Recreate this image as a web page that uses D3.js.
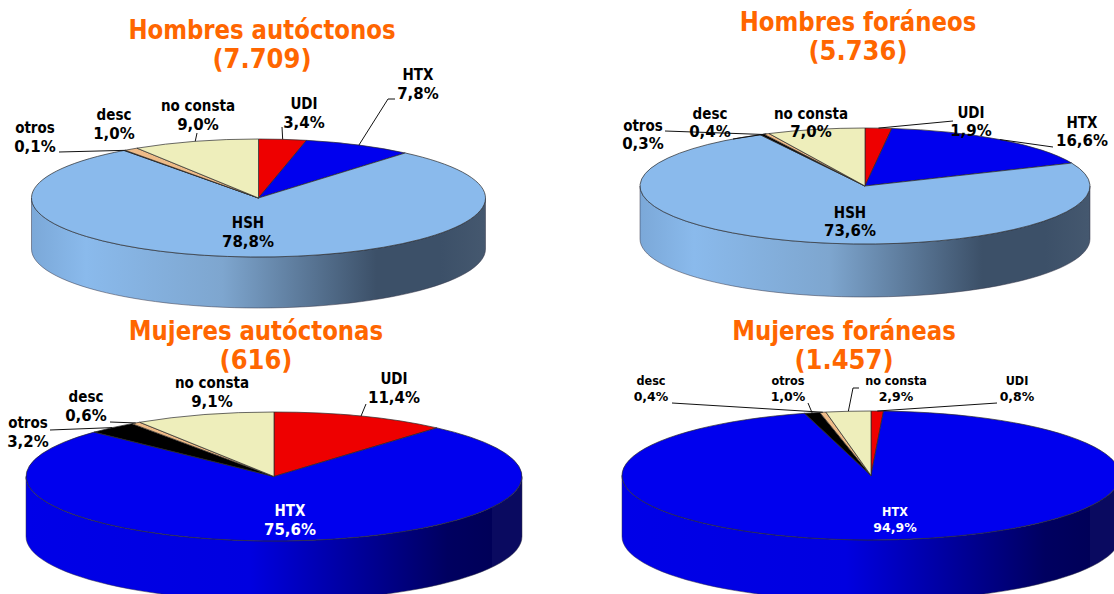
<!DOCTYPE html>
<html>
<head>
  <meta charset="utf-8">
  <title>Pies</title>
  <style type="text/css">
    html, body { margin: 0; padding: 0; background: #fff; overflow: hidden; }
    svg { display: block; }
    text { font-family: "DejaVu Sans Condensed", "DejaVu Sans", sans-serif; font-weight: bold; font-stretch: condensed; text-anchor: middle; }
    .title { fill: #ff6600; font-size: 27px; }
    .pct { font-family: "DejaVu Sans", sans-serif; font-stretch: normal; }
    .leader { fill: none; stroke: #111; stroke-width: 1; }
  </style>
  <script src="https://d3js.org/d3.v7.min.js"></script>
</head>
<body>
<script>
var width = 1114, height = 594;

// data, clockwise from 12 o'clock
var cats1 = ["UDI", "HTX", "HSH", "otros", "desc", "no consta"];
var vals1 = [3.4, 7.8, 78.8, 0.1, 1.0, 9.0];
var labels1 = ["3,4%", "7,8%", "78,8%", "0,1%", "1,0%", "9,0%"];

var cats2 = ["UDI", "HTX", "HSH", "otros", "desc", "no consta"];
var vals2 = [1.9, 16.6, 73.6, 0.3, 0.4, 7.0];
var labels2 = ["1,9%", "16,6%", "73,6%", "0,3%", "0,4%", "7,0%"];

var cats3 = ["UDI", "HTX", "otros", "desc", "no consta"];
var vals3 = [11.4, 75.6, 3.2, 0.6, 9.1];
var labels3 = ["11,4%", "75,6%", "3,2%", "0,6%", "9,1%"];

var cats4 = ["UDI", "HTX", "otros", "desc", "no consta"];
var vals4 = [0.8, 94.9, 1.0, 0.4, 2.9];
var labels4 = ["0,8%", "94,9%", "1,0%", "0,4%", "2,9%"];

var color = d3.scaleOrdinal()
  .domain(["UDI", "HTX", "HSH", "otros", "desc", "no consta"])
  .range(["#ee0000", "#0000ee", "#8abaec", "#000000", "#eebb88", "#eeeebb"]);

// wall shading, left to right across the pie
var wallRamps = {
  HSH: { offsets: [0, 0.12, 0.42, 0.76, 0.9, 1],
         colors: ["#7ba8d8", "#8abaec", "#7ea6cf", "#3c5068", "#3c5068", "#45586f"] },
  HTX: { offsets: [0, 0.45, 0.85, 0.94, 0.94, 1],
         colors: ["#0000e8", "#0000e0", "#000060", "#000058", "#0a0a60", "#0a0a60"] }
};

// layout: text centre x and first baseline per category, leader = points from label to rim
var layouts = [
  { cx: 258.5, cy: 198, rx: 227, ry: 59, depth: 51, size: 15, lead: 19, wall: "HSH",
    title: ["Hombres autóctonos", "(7.709)"], tx: 262, ty: 39, cats: cats1, vals: vals1, labels: labels1,
    pos: { "UDI": [304, 109], "HTX": [418, 80], "HSH": [248, 228], "otros": [35, 133], "desc": [114, 120], "no consta": [198, 111] },
    leaders: { "UDI": [[282, 127]], "HTX": [[395, 99], [388, 99]], "otros": [[59, 152]], "no consta": [[197, 133]] } },
  { cx: 865, cy: 186, rx: 225, ry: 58, depth: 53, size: 15, lead: 18, wall: "HSH",
    title: ["Hombres foráneos", "(5.736)"], tx: 858, ty: 31, cats: cats2, vals: vals2, labels: labels2,
    pos: { "UDI": [971, 118], "HTX": [1082, 128], "HSH": [850, 218], "otros": [643, 131], "desc": [710, 119], "no consta": [811, 119] },
    leaders: { "UDI": [[953, 121]], "HTX": [[1053, 147]], "otros": [[665, 131]], "desc": [[733, 139]] } },
  { cx: 274, cy: 476.5, rx: 248, ry: 64.5, depth: 60, size: 15, lead: 19, wall: "HTX",
    title: ["Mujeres autóctonas", "(616)"], tx: 256, ty: 340, cats: cats3, vals: vals3, labels: labels3,
    pos: { "UDI": [394, 384], "HTX": [290, 516], "otros": [28, 428], "desc": [86, 402], "no consta": [212, 388] },
    leaders: { "UDI": [[366, 404]], "otros": [[50, 430]], "desc": [[110, 422]] } },
  { cx: 871, cy: 475.5, rx: 249, ry: 64.5, depth: 61, size: 12.5, lead: 16, wall: "HTX",
    title: ["Mujeres foráneas", "(1.457)"], tx: 844, ty: 340, cats: cats4, vals: vals4, labels: labels4,
    pos: { "UDI": [1017, 385], "HTX": [895, 516], "otros": [788, 385], "desc": [651, 385], "no consta": [896, 385] },
    leaders: { "UDI": [[997, 403]], "otros": [[808, 403]], "desc": [[672, 403]], "no consta": [[859, 388], [853, 388]] } }
];

var svg = d3.select("body").append("svg").attr("width", width).attr("height", height);
var defs = svg.append("defs");

var pie = d3.pie().sort(null).value(function(d) { return d.value; });

layouts.forEach(function(c, i) {
  var rows = c.cats.map(function(name, j) {
    return { name: name, value: c.vals[j], label: c.labels[j] };
  });
  var slices = pie(rows);
  var g = svg.append("g");

  // gradient for the wall
  var ramp = wallRamps[c.wall];
  var grad = defs.append("linearGradient")
    .attr("id", "wall" + i)
    .attr("gradientUnits", "userSpaceOnUse")
    .attr("x1", c.cx - c.rx).attr("x2", c.cx + c.rx)
    .attr("y1", 0).attr("y2", 0);
  ramp.offsets.forEach(function(o, k) {
    grad.append("stop").attr("offset", o).attr("stop-color", ramp.colors[k]);
  });

  // side wall, only the front half of the ellipse shows
  function rim(a, drop) {
    return [c.cx + c.rx * Math.sin(a), c.cy - c.ry * Math.cos(a) + (drop || 0)];
  }
  slices.forEach(function(s) {
    var a0 = Math.max(s.startAngle, Math.PI / 2);
    var a1 = Math.min(s.endAngle, Math.PI * 1.5);
    if (a1 <= a0) return;
    var steps = d3.range(0, 61).map(function(k) { return a0 + (a1 - a0) * k / 60; });
    var pts = steps.map(function(a) { return rim(a); })
      .concat(steps.slice().reverse().map(function(a) { return rim(a, c.depth); }));
    g.append("path")
      .attr("d", d3.line()(pts) + "Z")
      .attr("fill", "url(#wall" + i + ")")
      .attr("stroke", "#334")
      .attr("stroke-width", 0.5);
  });

  // top face, a circle arc squashed into an ellipse
  var arc = d3.arc().innerRadius(0).outerRadius(c.rx);
  g.append("g")
    .attr("transform", "translate(" + c.cx + "," + c.cy + ") scale(1," + (c.ry / c.rx) + ")")
    .selectAll("path")
    .data(slices)
    .enter().append("path")
      .attr("d", arc)
      .attr("fill", function(d) { return color(d.data.name); })
      .attr("stroke", "#2a2a2a")
      .attr("stroke-width", 0.7)
      .attr("vector-effect", "non-scaling-stroke");

  // leader lines end at the middle of the slice on the rim
  slices.forEach(function(s) {
    var pts = c.leaders[s.data.name];
    if (!pts) return;
    var end = rim((s.startAngle + s.endAngle) / 2);
    g.append("path")
      .attr("class", "leader")
      .attr("d", d3.line()(pts.concat([end])));
  });

  // labels
  slices.forEach(function(s) {
    var p = c.pos[s.data.name];
    var fill = (c.wall === "HTX" && s.data.name === "HTX") ? "#fff" : "#000";
    var t = g.append("text")
      .attr("x", p[0]).attr("y", p[1])
      .attr("fill", fill)
      .style("font-size", c.size + "px");
    t.append("tspan").attr("x", p[0]).text(s.data.name);
    t.append("tspan").attr("class", "pct").attr("x", p[0]).attr("dy", c.lead).text(s.data.label);
  });

  // title, name line squeezed a little because the condensed face still runs wide
  c.title.forEach(function(line, k) {
    var t = g.append("text")
      .attr("class", "title")
      .attr("x", c.tx)
      .attr("y", c.ty + k * 29)
      .text(line);
    if (k === 0) {
      t.attr("lengthAdjust", "spacingAndGlyphs")
        .attr("textLength", t.node().getComputedTextLength() * 0.94);
    }
  });
});
</script>
</body>
</html>
